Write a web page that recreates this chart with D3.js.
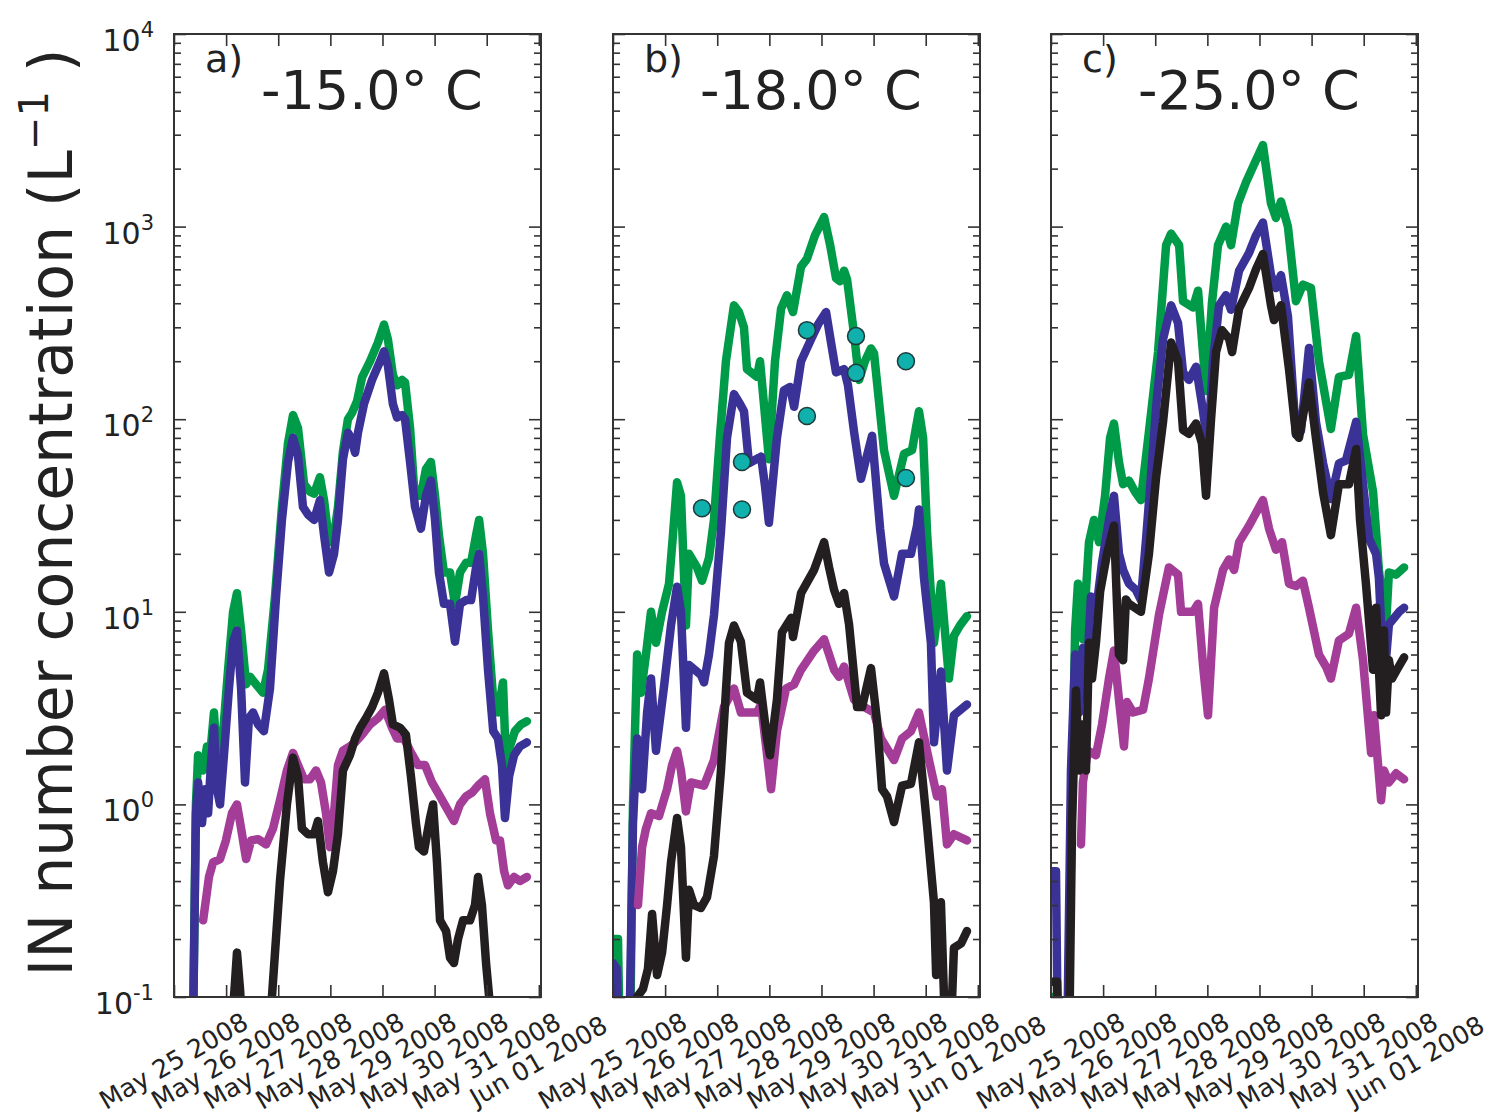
<!DOCTYPE html>
<html><head><meta charset="utf-8">
<script src="https://cdn.jsdelivr.net/npm/d3@7"></script>
<style>
body{margin:0;background:#fff;}
svg text{font-family:"DejaVu Sans",sans-serif;fill:#222;}
</style>
</head><body>
<svg id="chart" width="1497" height="1118"></svg>
<script>
// ---------- categories / labels ----------
const dateLabels = ["May 25 2008","May 26 2008","May 27 2008","May 28 2008","May 29 2008","May 30 2008","May 31 2008","Jun 01 2008"];
const tickDays = [0,1,2,3,4,5,6,7];
const yExponents = [-1,0,1,2,3,4];
const panelLetters = ["a)","b)","c)"];
const panelTemps = ["-15.0","-18.0","-25.0"];
const seriesColors = ["#009B48","#3A3296","#A43D98","#231F20"];
const markerColor = "#10B0AC";

// ---------- data: [hours since May 25 2008 00:00, IN concentration L^-1] ----------
const aGreen = [[8.7,0.06],[10.1,1.0],[11.1,1.8],[13.4,1.5],[15.2,2.0],[17.0,2.0],[18.4,3.0],[20.3,1.4],[22.1,2.0],[24.9,5],[27.2,10],[29.0,12.5],[30.9,8],[33.2,4.2],[35.0,4.6],[37.8,4.2],[41.0,3.8],[43.3,5],[46.5,12],[49.7,35],[52.5,75],[54.8,105],[57.1,90],[59.9,46],[62.6,42],[64.5,41],[67.2,50],[69.1,38],[71.4,23],[73.7,25],[75.5,35],[77.8,68],[80.1,100],[82.0,108],[84.3,124],[86.6,165],[90.3,200],[93.9,250],[96.7,310],[98.5,260],[100.8,170],[102.7,150],[105.0,160],[106.4,155],[108.7,90],[110.5,45],[112.4,40],[113.7,40],[116.0,55],[118.3,60],[120.2,40],[122.0,25],[124.3,16],[127.1,16],[129.4,11],[131.7,16],[134.5,18],[136.8,18],[139.1,25],[140.5,30],[142.3,20],[144.6,8],[147.0,3.5],[149.2,3.0],[151.5,4.3],[152.9,1.6],[154.7,2.0],[157.0,2.4],[159.8,2.6],[162.5,2.7]];
const aBlue = [[8.7,0.06],[10.1,0.9],[11.1,1.3],[12.9,0.8],[14.3,1.2],[15.7,0.9],[17.0,1.6],[18.4,2.5],[19.8,1.2],[21.2,1.0],[23.0,1.8],[25.3,4],[27.2,7],[29.0,8],[30.9,4],[32.7,1.3],[34.5,2.8],[36.4,3.0],[38.7,2.6],[41.4,2.4],[44.2,4],[47.0,12],[49.7,30],[52.5,60],[54.8,80],[57.1,65],[59.4,35],[61.7,32],[64.5,30],[67.2,38],[69.1,25],[71.4,16],[73.7,20],[75.5,30],[77.8,62],[80.1,85],[81.5,80],[83.4,67],[84.7,85],[87.5,120],[91.2,160],[94.9,200],[96.7,225],[98.5,190],[100.8,120],[102.7,102],[105.0,105],[106.4,100],[108.7,60],[111.0,35],[113.7,27],[116.0,40],[118.3,48],[120.2,30],[122.0,16],[124.3,11],[127.1,11],[129.4,7],[131.7,11],[134.5,11.5],[136.8,11.5],[139.1,17],[140.5,20],[142.3,12],[144.6,5],[147.0,2.4],[149.2,2.2],[151.0,1.6],[152.4,0.85],[154.3,1.4],[156.6,1.8],[159.3,2.0],[162.5,2.1]];
const aMagenta = [[13.4,0.25],[14.7,0.32],[16.1,0.42],[18.0,0.5],[21.2,0.52],[23.9,0.65],[26.7,0.9],[29.0,1.0],[30.9,0.75],[33.2,0.52],[35.5,0.65],[38.7,0.66],[42.4,0.62],[45.6,0.75],[48.8,1.05],[52.0,1.5],[54.8,1.85],[57.1,1.6],[59.9,1.35],[62.6,1.35],[65.4,1.5],[67.7,1.3],[70.0,0.9],[71.8,0.6],[73.7,0.9],[75.5,1.6],[77.8,1.9],[81.0,2.0],[83.4,2.1],[86.6,2.3],[90.3,2.6],[93.9,2.8],[97.2,3.1],[100.4,2.5],[102.7,2.2],[105.9,2.2],[108.7,1.9],[112.4,1.6],[115.6,1.6],[118.8,1.3],[122.5,1.1],[125.7,0.95],[128.9,0.82],[131.7,1.0],[134.5,1.1],[137.2,1.15],[140.0,1.25],[143.2,1.35],[145.5,0.9],[148.3,0.65],[150.1,0.65],[152.0,0.45],[153.8,0.38],[156.6,0.42],[159.3,0.4],[162.5,0.42]];
const aBlack = [[25.8,0.05],[28.1,0.12],[29.0,0.17],[30.4,0.11],[32.2,0.05],[41.9,0.05],[45.1,0.1],[48.8,0.4],[52.0,1.0],[54.8,1.75],[57.1,1.4],[58.9,0.75],[61.7,0.7],[64.5,0.7],[66.3,0.82],[68.6,0.5],[70.9,0.35],[73.2,0.45],[75.5,0.7],[77.8,1.5],[81.0,1.8],[83.4,2.2],[85.7,2.5],[88.4,2.8],[91.2,3.2],[93.9,3.8],[96.7,4.8],[99.0,3.5],[100.8,2.6],[104.1,2.5],[106.8,2.3],[109.1,1.4],[111.4,0.8],[112.8,0.6],[115.1,0.57],[117.9,0.85],[119.3,1.0],[121.1,0.5],[122.5,0.25],[125.3,0.22],[127.1,0.16],[128.9,0.15],[130.8,0.2],[133.1,0.25],[136.3,0.25],[138.6,0.3],[140.0,0.42],[141.8,0.3],[143.7,0.15],[145.5,0.09],[147.4,0.05]];

const bGreen = [[0,0.2],[2.3,0.2],[3.2,0.05],[7.8,0.05],[9.2,1.0],[11.1,6.0],[12.9,3.8],[15.2,6],[17.5,10],[19.8,6.9],[22.6,10],[25.8,14],[27.6,25],[29.5,47],[31.3,40],[33.6,8.5],[35.0,20],[38.7,17],[41.0,14.5],[44.2,19],[46.5,30],[49.2,80],[52.0,200],[55.7,390],[58.0,360],[60.3,300],[61.7,182],[66.3,166],[67.7,200],[69.5,120],[71.8,62],[74.6,200],[77.4,375],[80.1,440],[82.9,360],[86.6,620],[89.3,680],[93.0,900],[97.2,1120],[100.0,800],[102.7,540],[104.5,520],[106.4,590],[107.8,530],[111.0,277],[113.3,160],[116.0,200],[118.8,233],[120.2,220],[124.8,69],[129.4,40],[134.0,66],[137.7,69],[139.5,90],[140.9,110],[142.8,80],[144.6,26],[147.8,6.9],[151.0,14],[154.7,4.5],[157.0,7.5],[159.8,8.5],[163.0,9.5]];
const bBlue = [[0,0.15],[1.8,0.14],[2.8,0.05],[7.4,0.05],[9.2,0.8],[11.1,2.2],[13.4,1.2],[15.7,3],[17.5,4.5],[19.8,1.9],[23.5,4.1],[26.7,8.5],[29.5,13.5],[31.3,10],[33.6,2.5],[35.0,5.3],[40.5,4.7],[41.9,4.3],[44.2,6],[46.5,9.6],[49.7,26],[52.5,80],[55.7,135],[58.5,120],[60.3,110],[62.6,59],[67.2,63],[68.2,64],[70.0,45],[71.8,29],[75.5,80],[78.7,141],[81.5,147],[83.4,116],[86.6,200],[91.2,260],[94.4,310],[98.1,360],[100.4,250],[102.7,175],[106.4,182],[108.2,150],[111.0,86],[114.2,49],[117.0,65],[119.3,82],[123.0,27],[124.8,17.8],[129.4,12],[133.1,20],[137.2,20],[140.0,28],[140.9,34],[143.2,15],[146.4,6.9],[147.8,2.1],[151.0,4.9],[153.8,1.5],[157.0,2.9],[163.0,3.3]];
const bMagenta = [[11.5,0.3],[13.4,0.6],[15.2,0.75],[17.5,0.9],[21.2,0.87],[24.9,1.2],[27.2,1.6],[29.5,1.9],[31.3,1.5],[33.6,0.92],[35.9,1.3],[41.9,1.25],[46.5,1.7],[51.1,3.2],[55.7,4.0],[58.9,3.0],[66.3,3.0],[68.2,3.3],[70.5,2.0],[72.8,1.2],[75.5,2.4],[79.7,4.0],[83.4,4.2],[86.6,5.0],[92.2,6.2],[97.2,7.2],[101.8,5.0],[104.1,4.6],[106.4,5.2],[111.0,3.5],[115.6,3.2],[120.2,3.0],[123.4,2.2],[129.4,1.7],[133.1,2.2],[137.2,2.4],[140.9,3.0],[145.5,1.7],[149.2,1.1],[151.5,1.2],[153.8,0.62],[157.0,0.7],[163.0,0.65]];
const bBlack = [[9.2,0.05],[11.1,0.1],[13.8,0.11],[16.1,0.14],[18.0,0.27],[20.3,0.13],[22.6,0.17],[24.9,0.3],[26.7,0.5],[29.5,0.85],[31.3,0.6],[33.6,0.16],[35.0,0.36],[37.3,0.3],[40.5,0.29],[43.3,0.33],[46.5,0.54],[49.7,1.5],[53.4,6.9],[55.7,8.5],[58.9,7],[61.7,3.8],[66.3,3.5],[67.7,4.3],[70.9,2.2],[72.3,1.8],[75.5,3.5],[77.8,7.8],[82.0,9.3],[82.9,7.4],[86.6,12.5],[92.6,16.5],[97.2,23],[99.5,17],[101.8,13],[104.1,11],[106.4,12.5],[108.7,8.6],[112.4,3.2],[114.7,3.2],[118.8,5.1],[121.6,2.7],[123.9,1.2],[126.2,1.1],[129.4,0.81],[133.1,1.25],[137.2,1.28],[140.9,2.1],[144.6,0.78],[147.8,0.31],[148.8,0.13],[151.0,0.31],[153.3,0.05],[155.2,0.05],[157.0,0.18],[160.3,0.19],[163.0,0.22]];
const bMarkers = [[41.0,34.5],[59.4,60],[59.4,34],[89.3,290],[89.3,104],[111.9,270],[111.9,174],[134.9,200],[134.9,49.5]];

const cGreen = [[0,0.1],[2.8,0.1],[4.6,0.09],[7.4,0.05],[9.2,0.5],[11.1,8],[12.4,14],[14.7,7.2],[17.5,23],[19.8,30],[22.1,23],[24.9,40],[27.2,80],[29.0,95],[31.3,60],[33.2,46],[35.9,48],[38.7,42],[41.4,38],[45.1,86],[49.3,223],[53.0,800],[55.3,920],[59.0,800],[60.8,410],[65.4,380],[67.7,465],[71.4,140],[74.1,400],[76.9,800],[80.6,1000],[82.9,800],[86.1,1320],[89.8,1700],[93.5,2100],[97.6,2650],[101.3,1320],[103.6,1110],[105.9,1350],[109.1,1000],[112.8,410],[116.0,500],[119.7,480],[123.4,200],[128.9,89],[132.6,166],[137.2,170],[140.5,270],[143.7,83],[148.3,42],[149.7,26],[151.0,16.5],[152.4,12],[154.3,8.6],[155.6,16],[158.9,15.6],[162.6,17]];
const cBlue = [[0,0.45],[2.3,0.45],[3.2,0.05],[7.4,0.05],[9.2,1.5],[11.1,6],[12.9,3],[14.7,6.5],[16.6,5],[18.4,12],[20.7,10],[23.5,18],[26.7,30],[29.0,40],[31.3,20],[33.2,16.5],[35.9,14],[39.1,13],[41.4,11.5],[43.8,24],[46.0,50],[48.8,130],[51.6,260],[55.3,390],[58.5,316],[60.8,175],[63.5,160],[66.8,187],[69.5,120],[72.3,72],[74.6,200],[77.4,390],[80.6,440],[82.9,370],[86.6,590],[91.2,730],[94.4,900],[97.6,1050],[101.3,560],[103.6,480],[105.9,560],[109.1,343],[112.8,83],[115.1,87],[118.8,234],[122.0,97],[125.3,59],[128.9,38.5],[132.6,59],[135.8,61],[140.5,97],[143.7,46],[146.4,24],[149.7,20],[151.0,15],[152.4,6.9],[153.8,4.9],[155.6,8.6],[160.3,10],[162.6,10.5]];
const cMagenta = [[13.8,0.62],[14.7,1.3],[17.0,1.9],[20.7,1.8],[23.5,2.6],[26.7,4.5],[29.0,6.3],[31.3,3.5],[33.6,2.0],[35.0,3.4],[37.8,3.0],[42.4,3.1],[45.1,4.5],[49.7,9.6],[54.3,17],[58.5,15.6],[59.9,10],[65.4,10],[67.7,11],[70.0,5.3],[72.3,2.9],[75.1,10.5],[79.2,16.5],[82.0,18.7],[84.3,16.5],[86.6,23],[91.2,28],[97.6,38],[100.4,27],[103.6,21],[106.4,23],[109.6,14],[112.8,13.6],[116.0,14.5],[118.8,10.5],[123.4,6],[126.6,5.2],[128.9,4.5],[132.6,7.1],[137.2,7.7],[140.5,10.5],[143.7,5.6],[147.4,1.85],[148.7,2.9],[152.0,1.05],[153.3,1.5],[155.6,1.3],[158.9,1.45],[162.6,1.35]];
const cBlack = [[0,0.12],[2.8,0.12],[3.7,0.05],[8.3,0.05],[9.7,0.8],[11.5,3.9],[12.9,1.5],[14.3,2.6],[16.1,1.5],[17.5,6.9],[18.9,4.5],[20.7,6.9],[22.6,12.7],[25.8,20],[29.0,28],[31.3,6.0],[33.2,5.6],[34.5,11.6],[35.9,11],[41.4,10],[45.1,20],[48.4,50],[51.6,97],[55.3,250],[58.5,200],[60.8,88],[63.5,84],[66.8,95],[69.5,75],[71.4,40],[73.7,100],[76.0,223],[78.7,290],[82.0,262],[83.4,223],[86.6,375],[91.2,480],[94.4,600],[97.6,720],[101.3,390],[102.7,327],[105.9,390],[109.6,182],[112.8,84],[114.2,80],[118.8,155],[122.0,80],[125.3,41.5],[128.9,25],[132.6,46],[137.2,46],[140.5,70],[142.3,30],[145.1,13.7],[148.3,5],[149.7,10.5],[152.0,2.9],[153.3,8],[154.3,3.0],[155.6,5.6],[157.0,4.5],[159.3,5.0],[162.6,5.8]];

const panels = [
  {series:[aGreen,aBlue,aMagenta,aBlack], markers:[]},
  {series:[bGreen,bBlue,bMagenta,bBlack], markers:bMarkers},
  {series:[cGreen,cBlue,cMagenta,cBlack], markers:[]}
];

// ---------- layout ----------
const HOUR = 3600000;
const T0 = new Date(2008,4,25,0,0,0);
const toDate = h => new Date(+T0 + h*HOUR);
const W = 367, H = 963, TOP = 34;
const panelLefts = [174, 613, 1051];

const x = d3.scaleTime().domain([T0, toDate(169)]).range([0, W]);
const y = d3.scaleLog().domain([0.1, 1e4]).range([H, 0]);
const tickDates = tickDays.map(d => toDate(d*24));
const majors = yExponents.map(e => Math.pow(10, e));
const minors = [];
yExponents.slice(0,-1).forEach(e => { for (let k=2;k<=9;k++) minors.push(k*Math.pow(10,e)); });

const svg = d3.select("#chart");
const defs = svg.append("defs");
const line = d3.line().x(d => x(toDate(d[0]))).y(d => y(d[1]));

function styleAxis(g){
  g.select(".domain").remove();
  g.attr("font-family", null).attr("font-size", null);
  g.selectAll(".tick line").attr("stroke", "#333").attr("stroke-width", 1.6);
}

panels.forEach((p, i) => {
  defs.append("clipPath").attr("id", "clip"+i)
    .append("rect").attr("width", W).attr("height", H);
  const g = svg.append("g").attr("transform", `translate(${panelLefts[i]},${TOP})`);
  const plot = g.append("g").attr("clip-path", `url(#clip${i})`);
  p.series.forEach((s, j) => {
    plot.append("path").datum(s).attr("d", line)
      .attr("fill", "none").attr("stroke", seriesColors[j])
      .attr("stroke-width", 8.5).attr("stroke-linejoin", "round").attr("stroke-linecap", "round");
  });
  plot.selectAll("circle.m").data(p.markers).enter().append("circle")
    .attr("cx", d => x(toDate(d[0]))).attr("cy", d => y(d[1])).attr("r", 8.5)
    .attr("fill", markerColor).attr("stroke", "#1d3b3b").attr("stroke-width", 1.5);

  // y ticks (left / right), inward
  g.append("g").call(d3.axisLeft(y).tickValues(majors).tickSizeInner(-12).tickSizeOuter(0).tickFormat("")).call(styleAxis);
  g.append("g").call(d3.axisLeft(y).tickValues(minors).tickSizeInner(-7).tickSizeOuter(0).tickFormat("")).call(styleAxis);
  g.append("g").attr("transform", `translate(${W},0)`).call(d3.axisRight(y).tickValues(majors).tickSizeInner(-12).tickSizeOuter(0).tickFormat("")).call(styleAxis);
  g.append("g").attr("transform", `translate(${W},0)`).call(d3.axisRight(y).tickValues(minors).tickSizeInner(-7).tickSizeOuter(0).tickFormat("")).call(styleAxis);
  // x ticks (top / bottom), inward
  g.append("g").call(d3.axisTop(x).tickValues(tickDates).tickSizeInner(-12).tickSizeOuter(0).tickFormat("")).call(styleAxis);
  const bx = g.append("g").attr("transform", `translate(0,${H})`)
    .call(d3.axisBottom(x).tickValues(tickDates).tickSizeInner(-12).tickSizeOuter(0).tickFormat((d,k) => dateLabels[k]))
    .call(styleAxis);
  bx.selectAll(".tick text")
    .attr("y", null).attr("dy", null)
    .attr("transform", "translate(-1,64) rotate(-30)")
    .attr("text-anchor", "middle").attr("dominant-baseline", "central")
    .style("font-size", "25.5px").attr("fill", "#222");

  // frame
  g.append("rect").attr("width", W).attr("height", H)
    .attr("fill", "none").attr("stroke", "#333").attr("stroke-width", 2);

  // panel letter + temperature
  g.append("text").attr("x", 31).attr("y", 38).style("font-size", "38px").text(panelLetters[i]);
  const t = g.append("text").attr("x", 87).attr("y", 75).style("font-size", "54px");
  t.append("tspan").text(panelTemps[i]);
  t.append("tspan").text("\u00B0");
  t.append("tspan").text(" C");

  // y tick labels only on first panel
  if (i === 0) {
    yExponents.forEach(e => {
      const tx = g.append("text").attr("x", -20).attr("y", y(Math.pow(10,e)) + 17)
        .attr("text-anchor", "end").style("font-size", "30px");
      tx.append("tspan").text("10");
      tx.append("tspan").attr("dy", -14).style("font-size", "21px").text(String(e));
    });
  }
});

// y axis title
const yt = svg.append("text").attr("transform", `translate(72,${TOP + H/2 - 3}) rotate(-90)`)
  .attr("text-anchor", "middle").style("font-size", "60px");
yt.append("tspan").text("IN number concentration (L");
yt.append("tspan").attr("dy", -24).style("font-size", "40px").text("\u22121");
yt.append("tspan").attr("dy", 24).text(" )");
</script>
</body></html>
